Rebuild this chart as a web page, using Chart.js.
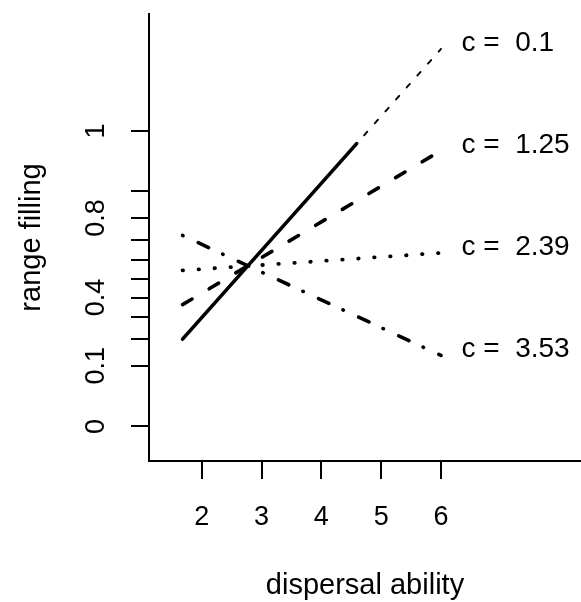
<!DOCTYPE html>
<html>
<head>
<meta charset="utf-8">
<script src="https://cdn.jsdelivr.net/npm/chart.js@4.4.1/dist/chart.umd.min.js"></script>
<style>
html, body { margin: 0; padding: 0; background: #ffffff; }
#wrap { width: 581px; height: 602px; }
</style>
</head>
<body>
<div id="wrap"><canvas id="c" width="581" height="602"></canvas></div>
<script>
// ---- data (y values are range filling on the arcsine-sqrt scale) ----
const xTicks = [2, 3, 4, 5, 6];
const yTickProps = [0, 0.1, 0.2, 0.3, 0.4, 0.5, 0.6, 0.7, 0.8, 0.9, 1];
const yTickShown = ['0', '0.1', '0.4', '0.8', '1'];
const cValues = ['0.1', '1.25', '2.39', '3.53'];

const dispersal01 = [1.68, 4.59, 6];
const filling01 = [0.464, 1.503, 2.006];
const dispersal = [1.68, 6];
const filling125 = [0.647, 1.466];
const filling239 = [0.829, 0.922];
const filling353 = [1.015, 0.377];

const FONT = "'Liberation Sans', Arial, Helvetica, sans-serif";
const TICK_FS = 27;
const TITLE_FS = 29;
const LABEL_FS = 28;

function pts(xs, ys) { return xs.map((x, i) => ({ x: x, y: ys[i] })); }

const labelPlugin = {
  id: 'endLabels',
  afterDatasetsDraw(chart) {
    const ctx = chart.ctx;
    const xs = chart.scales.x, ys = chart.scales.y;
    ctx.save();
    ctx.font = LABEL_FS + 'px ' + FONT;
    ctx.fillStyle = '#000';
    ctx.textAlign = 'left';
    ctx.textBaseline = 'alphabetic';
    chart.data.datasets.forEach((ds, i) => {
      const last = ds.data[ds.data.length - 1];
      const px = xs.getPixelForValue(last.x) + 20.5;
      const py = ys.getPixelForValue(last.y) + 2;
      ctx.fillText('c =  ' + cValues[i], px, py);
    });
    ctx.restore();
  }
};

new Chart(document.getElementById('c'), {
  type: 'line',
  data: {
    datasets: [
      {
        data: pts(dispersal01, filling01),
        borderColor: '#000', borderWidth: 3.6, borderCapStyle: 'round',
        pointRadius: 0, tension: 0, fill: false,
        segment: {
          borderWidth: c => c.p0DataIndex >= 1 ? 1.9 : undefined,
          borderDash: c => c.p0DataIndex >= 1 ? [4.8, 11.2] : undefined,
          borderDashOffset: c => c.p0DataIndex >= 1 ? 4.8 : undefined
        }
      },
      {
        data: pts(dispersal, filling125),
        borderColor: '#000', borderWidth: 3.6, borderCapStyle: 'round',
        borderDash: [11, 20],
        pointRadius: 0, tension: 0, fill: false
      },
      {
        data: pts(dispersal, filling239),
        borderColor: '#000', borderWidth: 3.8, borderCapStyle: 'round',
        borderDash: [0.5, 15.5],
        pointRadius: 0, tension: 0, fill: false
      },
      {
        data: pts(dispersal, filling353),
        borderColor: '#000', borderWidth: 3.6, borderCapStyle: 'round',
        borderDash: [0.5, 16.8, 11.4, 15.5],
        pointRadius: 0, tension: 0, fill: false
      }
    ]
  },
  options: {
    responsive: false,
    animation: false,
    devicePixelRatio: 1,
    layout: { padding: { top: 14, right: 0, bottom: 0, left: 0 } },
    plugins: { legend: { display: false }, tooltip: { enabled: false } },
    scales: {
      x: {
        type: 'linear',
        min: 1.119, max: 8.34,
        afterBuildTicks: s => { s.ticks = xTicks.map(v => ({ value: v })); },
        afterFit: s => { s.height = 141; s.paddingLeft = 0; s.paddingRight = 0; },
        grid: { drawOnChartArea: false, drawTicks: true, tickLength: 18, color: '#000', lineWidth: 2 },
        border: { display: true, color: '#000', width: 2 },
        ticks: {
          autoSkip: false, maxRotation: 0, minRotation: 0, padding: 22.4,
          color: '#000', font: { family: FONT, size: TICK_FS },
          callback: v => String(v)
        },
        title: {
          display: true, text: 'dispersal ability', color: '#000',
          font: { family: FONT, size: TITLE_FS, lineHeight: 1 }, padding: { top: 0, bottom: 1.2 }
        }
      },
      y: {
        type: 'linear',
        min: -0.184, max: 2.192,
        afterBuildTicks: s => { s.ticks = yTickProps.map(p => ({ value: Math.asin(Math.sqrt(p)) })); },
        afterFit: s => { s.width = 149; s.paddingTop = 0; s.paddingBottom = 0; },
        grid: { drawOnChartArea: false, drawTicks: true, tickLength: 18, color: '#000', lineWidth: 2 },
        border: { display: true, color: '#000', width: 2 },
        ticks: {
          autoSkip: false, minRotation: 90, maxRotation: 90, crossAlign: 'center', padding: 15.5,
          color: '#000', font: { family: FONT, size: TICK_FS },
          callback: (v, i) => { const s = String(yTickProps[i]); return yTickShown.includes(s) ? s : ''; }
        },
        title: {
          display: true, text: 'range filling', color: '#000',
          font: { family: FONT, size: TITLE_FS, lineHeight: 1 }, padding: { top: 17.5, bottom: 0 }
        }
      }
    }
  },
  plugins: [labelPlugin]
});
</script>
</body>
</html>
